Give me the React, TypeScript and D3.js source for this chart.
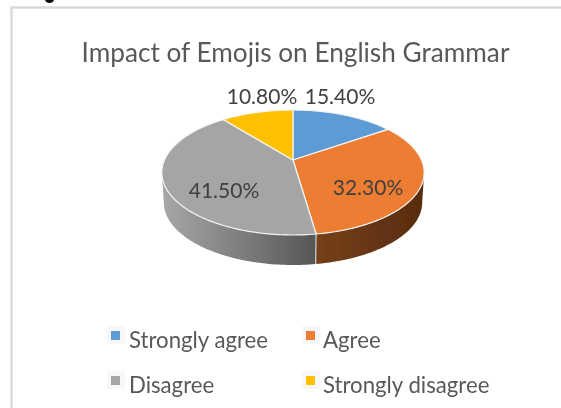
import React from "react";
import * as d3 from "d3";

const title = "Impact of Emojis on English Grammar";
const categories = ["Strongly agree", "Agree", "Disagree", "Strongly disagree"];
const shares = [15.4, 32.3, 41.5, 10.8];
const shareLabels = ["15.40%", "32.30%", "41.50%", "10.80%"];
const colors = ["#5b9bd5", "#ed7d31", "#a5a5a5", "#ffc000"];
const labelPos: [number, number][] = [[340, 104], [368, 195], [224, 198], [262, 104]];
const legendPos: [number, number][] = [[111, 331], [306, 331], [111, 376], [306, 376]];

const FONT = "Lato, sans-serif";
const cx = 293, cy = 160, a = 128.5, b = 60, k = 0.2, depth = 30;

function project(theta: number, dz = 0, s = 1): [number, number] {
  const w = 1 + k * Math.cos(theta);
  return [cx + (s * a * Math.sin(theta)) / w, cy + dz - (b * Math.cos(theta)) / w];
}
function samples(t0: number, t1: number, dz = 0, s = 1): [number, number][] {
  const n = Math.max(2, Math.ceil(Math.abs(t1 - t0) / 0.02));
  return d3.range(n + 1).map((i) => project(t0 + ((t1 - t0) * i) / n, dz, s));
}
const line = d3.line<[number, number]>();
const arcs = d3.pie<number>().sort(null).value((d) => d)(shares);
const silL = Math.PI * 2 - Math.acos(-k);
const silR = Math.acos(-k);
const sides = [
  { id: "sideOrange", t0: Math.max(arcs[1].startAngle, silR), t1: arcs[1].endAngle, x0: 316, x1: 425, c0: "#75401a", c1: "#572c0f" },
  { id: "sideGray", t0: arcs[2].startAngle, t1: Math.min(arcs[2].endAngle, silL), x0: 165, x1: 316, c0: "#a6a6a6", c1: "#565656" },
];

export default function App() {
  return (
    <svg width={561} height={408} style={{ position: "absolute", left: 0, top: 0, background: "#fff" }}>
      <defs>
        {sides.map((s) => (
          <linearGradient key={s.id} id={s.id} gradientUnits="userSpaceOnUse" x1={s.x0} x2={s.x1} y1={0} y2={0}>
            <stop offset="0" stopColor={s.c0} />
            <stop offset="1" stopColor={s.c1} />
          </linearGradient>
        ))}
        <filter id="soft" x="0" y="0" width="100%" height="100%" filterUnits="userSpaceOnUse" primitiveUnits="userSpaceOnUse">
          <feGaussianBlur stdDeviation="0.4" />
        </filter>
      </defs>
      <g filter="url(#soft)">
        <rect x={0} y={0} width={561} height={408} fill="#fff" />
        <path d="M11.5 408V7.500H561" fill="none" stroke="#d9d9d9" strokeWidth={2.5} />
        <path d="M45 0h9q-1 3 -4.500 3t-4.500 -3z" fill="#111" />
        <text x={295.5} y={61.5} textAnchor="middle" fontFamily={FONT} fontSize={26.2} fill="#595959">{title}</text>
        {sides.map((s) => {
          const pts = [...samples(s.t0, s.t1), ...samples(s.t1, s.t0, depth, 0.985)];
          return <path key={s.id} d={line(pts) + "Z"} fill={`url(#${s.id})`} />;
        })}
        <path d={line([project(arcs[2].startAngle), project(arcs[2].startAngle, depth, 0.985)]) as string} stroke="#e8e8e8" strokeWidth={1} fill="none" />
        {arcs.map((d, i) => (
          <path
            key={categories[i]}
            d={line([[cx, cy], ...samples(d.startAngle, d.endAngle)]) + "Z"}
            fill={colors[i]}
            stroke="#f4f4f4"
            strokeWidth={1.2}
            strokeLinejoin="round"
          />
        ))}
        {shareLabels.map((t, i) => (
          <text key={t} x={labelPos[i][0]} y={labelPos[i][1]} textAnchor="middle" fontFamily={FONT} fontSize={21} fill="#404040">{t}</text>
        ))}
        {categories.map((c, i) => (
          <g key={c}>
            <rect x={legendPos[i][0] - 4} y={legendPos[i][1] - 5} width={18} height={18} fill="#f7f7f7" />
            <rect x={legendPos[i][0]} y={legendPos[i][1]} width={9} height={9} fill={colors[i]} />
            <text x={legendPos[i][0] + (i % 2 ? 17 : 18)} y={legendPos[i][1] + 17} fontFamily={FONT} fontSize={22.2} fill="#595959">{c}</text>
          </g>
        ))}
      </g>
    </svg>
  );
}
